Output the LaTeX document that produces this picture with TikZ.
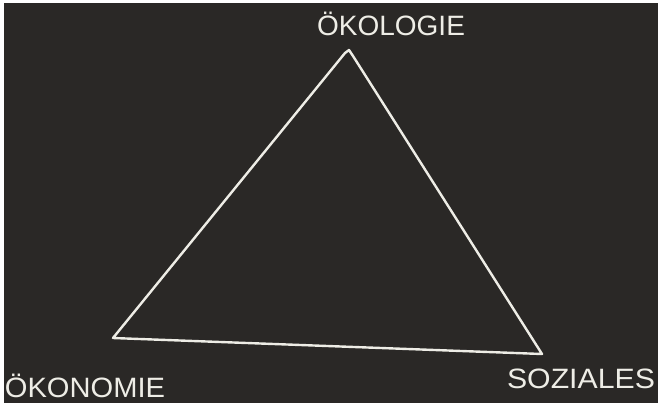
\documentclass[tikz,border=0pt]{standalone}
\usepackage{fontspec}
\setmainfont{Liberation Sans}
\usetikzlibrary{positioning}
\definecolor{Board}{HTML}{2A2826}
\definecolor{Chalk}{HTML}{EEEDE6}

\begin{document}
\begin{tikzpicture}[x=0.5pt, y=-0.5pt]
        % Board with its light edge
        \fill[white] (0,0) rectangle (658,403);
        \fill[Board] (4,3) rectangle (658,403);
        \useasboundingbox (0,0) rectangle (658,403);

        % Corners of the triangle
        \coordinate (top) at (349,50);
        \coordinate (left) at (113,338);
        \coordinate (right) at (542,354);

        % Chalk lines
        \draw[Chalk, line width=1.2pt, line join=round] (left) -- (345,53) -- (top) -- (353,56) -- (right) -- cycle;

        % Labels
        \node[anchor=base, text=Chalk, font=\fontsize{14}{16}\selectfont, inner sep=0pt] (oekologie) at (391,35) {ÖKOLOGIE};
        \node[anchor=base, text=Chalk, font=\fontsize{14}{16}\selectfont, inner sep=0pt, xscale=1.04] (oekonomie) at (85,397) {ÖKONOMIE};
        \node[anchor=base, text=Chalk, font=\fontsize{14}{16}\selectfont, inner sep=0pt, xscale=1.08] (soziales) at (581,388) {SOZIALES};
    \end{tikzpicture}
\end{document}
